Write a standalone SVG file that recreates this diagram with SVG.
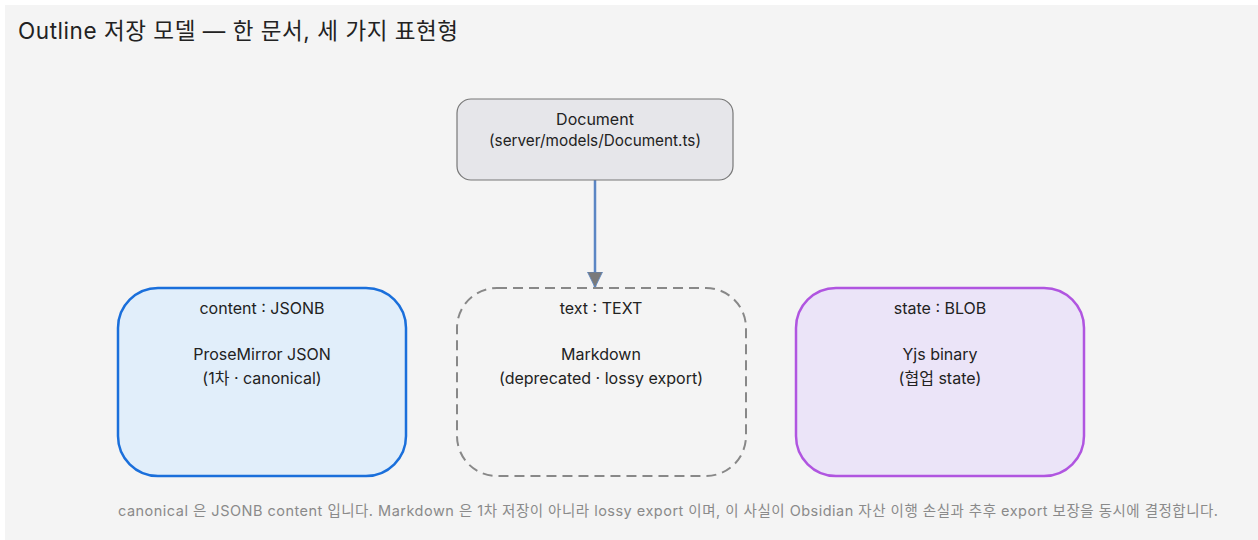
<svg xmlns="http://www.w3.org/2000/svg" width="1258" height="540" viewBox="0 0 1258 540">
<defs>
<style>
text{font-family:Inter,"Noto Sans CJK KR",sans-serif;fill:#222;}
.t{font-size:16px;text-anchor:middle;}
.node{stroke-width:2.5;}
</style>
<marker id="ah" viewBox="0 0 16 16" refX="15" refY="8" markerWidth="16" markerHeight="16" markerUnits="userSpaceOnUse" orient="auto">
<path d="M0,0.5 L15.5,8 L0,15.5 Z" fill="#7a7a7a" stroke="#5b86c4" stroke-width="0.8"/>
</marker>
</defs>
<rect width="1258" height="540" fill="#ffffff"/>
<rect x="5" y="5" width="1253" height="535" fill="#f4f4f4"/>
<text x="18" y="39" textLength="440" lengthAdjust="spacing" style="font-size:22.5px">Outline 저장 모델 — 한 문서, 세 가지 표현형</text>
<g id="connectors">
<line x1="595" y1="180" x2="595" y2="287" stroke="#5b86c4" stroke-width="2.5" marker-end="url(#ah)"/>
</g>
<g id="document">
<rect x="457" y="99" width="276" height="81" rx="14" fill="#e6e6ea" stroke="#777" stroke-width="1.2"/>
<text class="t" x="595" y="125">Document</text>
<text class="t" x="595" y="146" textLength="212" lengthAdjust="spacingAndGlyphs">(server/models/Document.ts)</text>
</g>
<g id="content">
<rect class="node" x="118" y="288" width="288" height="188" rx="40" fill="#e1eefa" stroke="#1a6fdb"/>
<text class="t" x="262" y="314" xml:space="preserve">content : JSONB</text>
<text class="t" x="262" y="360">ProseMirror JSON</text>
<text class="t" x="262" y="384">(1차 · canonical)</text>
</g>
<g id="text">
<rect x="457" y="288" width="289" height="188" rx="40" fill="none" stroke="#888" stroke-width="2" stroke-dasharray="10 6"/>
<text class="t" x="601" y="314">text : TEXT</text>
<text class="t" x="601" y="360">Markdown</text>
<text class="t" x="601" y="384">(deprecated · lossy export)</text>
</g>
<g id="state">
<rect class="node" x="796" y="288" width="288" height="188" rx="40" fill="#ebe4f8" stroke="#b055e0"/>
<text class="t" x="940" y="314">state : BLOB</text>
<text class="t" x="940" y="360">Yjs binary</text>
<text class="t" x="940" y="384">(협업 state)</text>
</g>
<text x="118" y="516" textLength="1100" lengthAdjust="spacing" style="font-size:14.5px;fill:#8a8a8a">canonical 은 JSONB content 입니다. Markdown 은 1차 저장이 아니라 lossy export 이며, 이 사실이 Obsidian 자산 이행 손실과 추후 export 보장을 동시에 결정합니다.</text>
</svg>
